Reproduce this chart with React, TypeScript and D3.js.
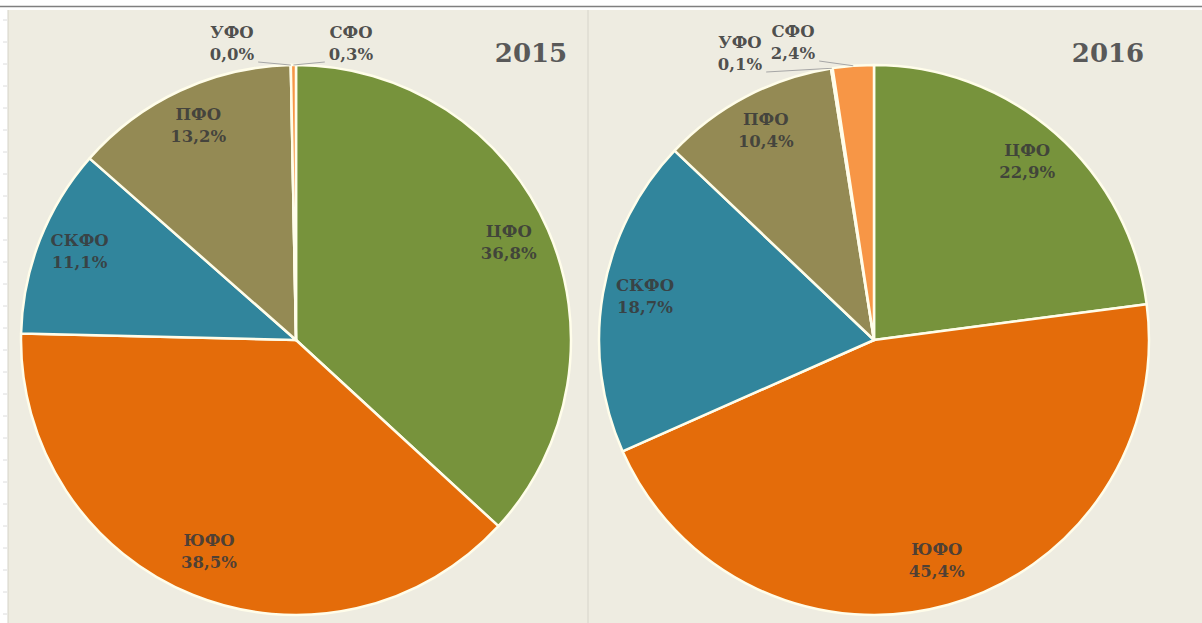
import * as d3 from "d3";
import { useEffect, useRef } from "react";

const regions = ["ЦФО", "ЮФО", "СКФО", "ПФО", "УФО", "СФО"];
const share2015 = [36.8, 38.5, 11.1, 13.2, 0.0, 0.3];
const share2016 = [22.9, 45.4, 18.7, 10.4, 0.1, 2.4];
const years = ["2015", "2016"];
const regionColors = ["#77933c", "#e46c0a", "#31859c", "#948a54", "#8064a2", "#f79646"];

// small slices get their labels outside, offset from the pie centre
const outsideLabels: Record<string, Record<string, [number, number]>> = {
    "2015": { "УФО": [-64, -308], "СФО": [55, -308] },
    "2016": { "УФО": [-134, -298], "СФО": [-81, -309] },
};

const W = 1202;
const H = 623;
const fontFamily = "'DejaVu Serif', 'Liberation Serif', serif";

function fmt(v: number) {
    return v.toFixed(1).replace(".", ",") + "%";
}

function drawPie(svg: any, year: string, values: number[], cx: number, cy: number, r: number) {
    const data = regions.map((name, i) => ({ name, value: values[i], color: regionColors[i] }));

    const pie = d3.pie<any>().sort(null).value(d => d.value);
    const arcs = pie(data);

    const arc = d3.arc<any>().innerRadius(0).outerRadius(r);
    const labelArc = d3.arc<any>().innerRadius(r * 0.845).outerRadius(r * 0.845);

    const g = svg.append("g").attr("transform", `translate(${cx}, ${cy})`);

    g.selectAll("path.slice")
        .data(arcs)
        .enter()
        .append("path")
        .attr("class", "slice")
        .attr("d", arc)
        .style("fill", d => d.data.color)
        .style("stroke", "#fffdea")
        .style("stroke-width", 2.5)
        .style("stroke-linejoin", "round");

    const outside = outsideLabels[year];

    arcs.forEach(a => {
        const name = a.data.name;
        let lx: number, ly: number;
        const isOutside = outside[name] !== undefined;
        if (isOutside) {
            [lx, ly] = outside[name];
        } else {
            [lx, ly] = labelArc.centroid(a);
            ly -= 15;
        }

        const t = g.append("g")
            .style("font-family", fontFamily)
            .style("font-weight", "bold")
            .style("font-size", "16.5px")
            .style("fill", "#3a3a3a")
            .style("fill-opacity", 0.88)
            .attr("text-anchor", "middle");

        t.append("text").attr("x", lx).attr("y", ly).attr("dy", "0.35em").text(name);
        const pct = t.append("text").attr("x", lx).attr("y", ly + 22).attr("dy", "0.35em").text(fmt(a.data.value));

        if (isOutside) {
            const mid = (a.startAngle + a.endAngle) / 2;
            const ex = r * Math.sin(mid);
            const ey = -r * Math.cos(mid);
            const halfW = (pct.node() as SVGTextElement).getComputedTextLength() / 2;
            const sx = lx < ex ? lx + halfW + 4 : lx - halfW - 4;
            const sy = ly + 22 + 8;
            g.append("path")
                .attr("d", `M${sx},${sy}L${ex},${ey}`)
                .style("fill", "none")
                .style("stroke", "#a6a6a6")
                .style("stroke-width", 1);
        }
    });
}

function App() {
    const svgRef = useRef<SVGSVGElement>(null);

    useEffect(() => {
        const svg = d3.select(svgRef.current);
        svg.selectAll("*").remove();

        svg.append("rect").attr("width", W).attr("height", H).style("fill", "#ffffff");

        // panel background
        svg.append("rect")
            .attr("x", 8).attr("y", 10)
            .attr("width", W - 8).attr("height", H - 10)
            .style("fill", "#eeece1");

        svg.append("line")
            .attr("x1", 8).attr("x2", 8).attr("y1", 10).attr("y2", H)
            .style("stroke", "#d4d2c8").style("stroke-width", 1);

        svg.append("line")
            .attr("x1", 0).attr("x2", W).attr("y1", 6.5).attr("y2", 6.5)
            .style("stroke", "#7f7f7f").style("stroke-width", 1.5);

        svg.append("line")
            .attr("x1", 588).attr("x2", 588).attr("y1", 10).attr("y2", H)
            .style("stroke", "#d6d4ca").style("stroke-width", 1);

        // faint ruler ticks on the left edge
        d3.range(20, H, 22).forEach(y => {
            svg.append("line")
                .attr("x1", 3).attr("x2", 7).attr("y1", y).attr("y2", y)
                .style("stroke", "#dcdcdc").style("stroke-width", 1);
        });

        const r = 275;
        drawPie(svg, years[0], share2015, 296, 340, r);
        drawPie(svg, years[1], share2016, 874, 340, r);

        const titles = [[531, years[0]], [1108, years[1]]];
        titles.forEach(([x, label]) => {
            svg.append("text")
                .attr("x", x)
                .attr("y", 53)
                .attr("dy", "0.35em")
                .attr("text-anchor", "middle")
                .style("font-family", fontFamily)
                .style("font-weight", "bold")
                .style("font-size", "26px")
                .style("fill", "#595959")
                .text(label as string);
        });
    }, []);

    return (
        <svg
            ref={svgRef}
            width={W}
            height={H}
            style={{ position: "absolute", left: 0, top: 0, display: "block" }}
        ></svg>
    );
}

export default App;
